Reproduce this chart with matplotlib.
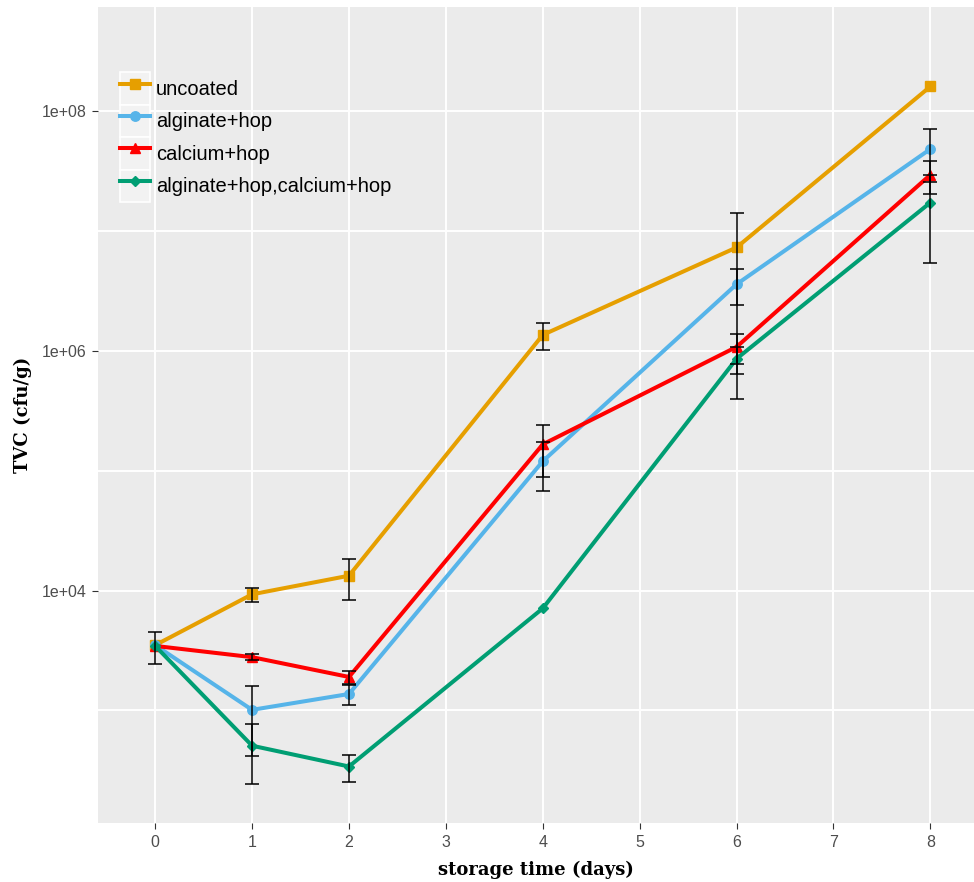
import matplotlib.pyplot as plt
from matplotlib.patches import Patch
from matplotlib.legend_handler import HandlerTuple
from matplotlib.ticker import FixedLocator, NullFormatter

nan = float("nan")
days = [0, 1, 2, 4, 6, 8]

# mean TVC (cfu/g) and standard error per treatment (nan = no bar drawn)
uncoated = [3500, 9300, 13300, 1.36e6, 7.3e6, 1.61e8]
uncoated_se = [1050, 1300, 4900, 3.5e5, 6.9e6, nan]
alginate = [3500, 1010, 1370, 1.2e5, 3.6e6, 4.84e7]
alginate_se = [nan, 590, 260, 5.2e4, 1.2e6, 2.25e7]
calcium = [3450, 2780, 1900, 1.66e5, 1.08e6, 2.95e7]
calcium_se = [nan, 150, 230, 7.7e4, 3.0e5, 0.9e7]
combined = [3450, 507, 340, 7100, 8.6e5, 1.73e7]
combined_se = [nan, 266, 88, nan, 2.2e5, 1.19e7]

labels = ["uncoated", "alginate+hop", "calcium+hop", "alginate+hop,calcium+hop"]
colors = ["#E69F00", "#56B4E9", "#FF0000", "#009E73"]
markers = ["s", "o", "^", "D"]
msizes = [7, 6.8, 7, 4.8]

fig = plt.figure(figsize=(9.74, 8.82), dpi=100)
ax = fig.add_axes([98 / 974, 59 / 882, 876 / 974, 816 / 882])
ax.set_facecolor("#EBEBEB")
for s in ax.spines.values():
    s.set_visible(False)

series = [(uncoated, uncoated_se), (alginate, alginate_se),
          (calcium, calcium_se), (combined, combined_se)]
handles = []
for (y, se), lab, c, m, ms in zip(series, labels, colors, markers, msizes):
    h, = ax.plot(days, y, color=c, lw=2.9, marker=m, ms=ms, label=lab, zorder=3)
    key = Patch(facecolor="#F2F2F2", edgecolor="white", lw=1.2)
    handles.append((key, h))
    ax.errorbar(days, y, yerr=se, fmt="none", ecolor="black", elinewidth=1.1,
                capsize=4.8, capthick=1.1, zorder=4)

ax.set_yscale("log")
ax.set_xlim(-0.59, 8.45)
ax.set_ylim(10 ** 2.06, 10 ** 8.87)
ax.xaxis.set_major_locator(FixedLocator(range(9)))
ax.yaxis.set_major_locator(FixedLocator([1e4, 1e6, 1e8]))
ax.yaxis.set_minor_locator(FixedLocator([1e3, 1e5, 1e7]))
ax.yaxis.set_minor_formatter(NullFormatter())
ax.set_yticklabels(["1e+04", "1e+06", "1e+08"])
ax.grid(True, which="major", color="white", lw=1.4)
ax.grid(True, which="minor", axis="y", color="white", lw=1.4)
ax.set_axisbelow(True)
ax.tick_params(axis="both", which="major", length=4, color="#333333",
               labelcolor="#4D4D4D", labelsize=11.5, pad=4.5)
ax.tick_params(axis="y", which="minor", length=0)
for t in ax.get_xticklabels() + ax.get_yticklabels():
    t.set_family("Liberation Sans")

ax.set_xlabel("storage time (days)", family="DejaVu Serif", weight="bold",
              fontsize=13, labelpad=8)
ax.set_ylabel("TVC (cfu/g)", family="DejaVu Serif", weight="bold",
              fontsize=13, labelpad=7)

leg = ax.legend(handles=handles, labels=labels, loc="upper left",
                bbox_to_anchor=(0.025, 0.920), frameon=False,
                handler_map={tuple: HandlerTuple(ndivide=1)},
                prop={"family": "Liberation Sans", "size": 14.5},
                handlelength=1.5, handleheight=2.1, handletextpad=0.3,
                labelspacing=0, borderpad=0, borderaxespad=0)

fig.savefig("out.png", dpi=100)
